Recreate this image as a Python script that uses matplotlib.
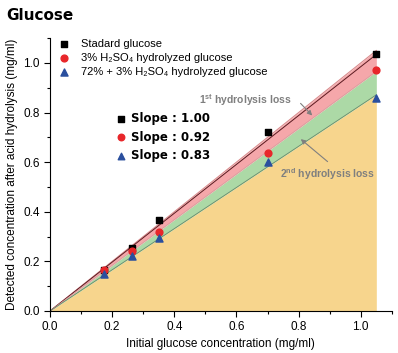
import matplotlib
matplotlib.use("Agg")
import matplotlib.pyplot as plt
import numpy as np
from matplotlib.ticker import MultipleLocator

plt.rcParams['font.family'] = ['Liberation Sans', 'DejaVu Sans']
plt.rcParams['mathtext.fontset'] = 'custom'
plt.rcParams['mathtext.rm'] = 'Liberation Sans'
plt.rcParams['mathtext.bf'] = 'Liberation Sans:bold'

# data
conc = [0.175, 0.263, 0.35, 0.70, 1.05]
standard = [0.165, 0.255, 0.365, 0.72, 1.035]
h2so4_3 = [0.165, 0.24, 0.32, 0.635, 0.97]
h2so4_72_3 = [0.15, 0.22, 0.295, 0.60, 0.86]
slopes = [1.00, 0.92, 0.83]
series_names = ['Stadard glucose', '3% H\u2082SO\u2084 hydrolyzed glucose',
                '72% + 3% H\u2082SO\u2084 hydrolyzed glucose']

fig = plt.figure(figsize=(3.98, 3.53), dpi=100)
ax = fig.add_axes([0.1256, 0.119, 0.859, 0.773])

xs = np.array([0, conc[-1]])
top = slopes[0] * xs
mid = slopes[1] * xs
low = slopes[2] * xs
ax.fill_between(xs, 0, low, color='#f7d58d', lw=0)
ax.fill_between(xs, low, mid, color='#acd9a6', lw=0)
ax.fill_between(xs, mid, top, color='#f5a7aa', lw=0)
ax.plot(xs, top, color='#d98a8c', lw=0.8)
ax.plot(xs, top * 0.985, color='#5a1a20', lw=0.7)
ax.plot(xs, mid, color='#d9a0a0', lw=0.6)
ax.plot(xs, low, color='#6a8a6a', lw=0.6)

h1 = ax.scatter(conc, standard, marker='s', s=22, color='black', zorder=5)
h2 = ax.scatter(conc, h2so4_3, marker='o', s=24, color='#e8262a', zorder=5)
h3 = ax.scatter(conc, h2so4_72_3, marker='^', s=26, color='#2a4f9e', zorder=5)

leg = ax.legend([h1, h2, h3], series_names, loc='upper left', frameon=False,
                fontsize=8, handletextpad=0.9, labelspacing=0.35,
                handlelength=1.2, bbox_to_anchor=(0.0, 1.025),
                borderaxespad=0.3)

# slope labels
for y, m, c, s in zip([0.775, 0.70, 0.625], ['s', 'o', '^'],
                      ['black', '#e8262a', '#2a4f9e'], slopes):
    ax.scatter([0.23], [y], marker=m, s=22, color=c, zorder=6)
    ax.text(0.26, y, 'Slope : %.2f' % s, fontsize=8.5, fontweight='bold',
            va='center', ha='left', family=['DejaVu Sans'])

ax.text(0.48, 0.85, r'$\mathbf{1^{st}}$ hydrolysis loss', fontsize=7.5,
        fontweight='bold', color='#7f7f7f', va='center')
ax.annotate('', xy=(0.85, 0.78), xytext=(0.80, 0.845),
            arrowprops=dict(arrowstyle='-|>', color='#7f7f7f', lw=0.8,
                            mutation_scale=7))
ax.text(0.74, 0.55, r'$\mathbf{2^{nd}}$ hydrolysis loss', fontsize=7.5,
        fontweight='bold', color='#7f7f7f', va='center')
ax.annotate('', xy=(0.80, 0.70), xytext=(0.90, 0.595),
            arrowprops=dict(arrowstyle='-|>', color='#7f7f7f', lw=0.8,
                            mutation_scale=7))

ax.set_xlim(0, 1.1)
ax.set_ylim(0, 1.1)
ax.xaxis.set_major_locator(MultipleLocator(0.2))
ax.xaxis.set_minor_locator(MultipleLocator(0.1))
ax.yaxis.set_major_locator(MultipleLocator(0.2))
ax.yaxis.set_minor_locator(MultipleLocator(0.1))
ax.tick_params(which='both', direction='out', labelsize=8.5, width=0.8)
ax.tick_params(which='major', length=4)
ax.tick_params(which='minor', length=2.5)
ax.spines['top'].set_visible(False)
ax.spines['right'].set_visible(False)
ax.set_xlabel('Initial glucose concentration (mg/ml)', fontsize=8.5, labelpad=3)
ax.set_ylabel('Detected concentration after acid hydrolysis (mg/ml)',
              fontsize=8.5, labelpad=4)

fig.text(0.015, 0.955, 'Glucose', fontsize=11, fontweight='bold',
         family=['DejaVu Sans'], va='center')

fig.savefig('out.png', dpi=100)
